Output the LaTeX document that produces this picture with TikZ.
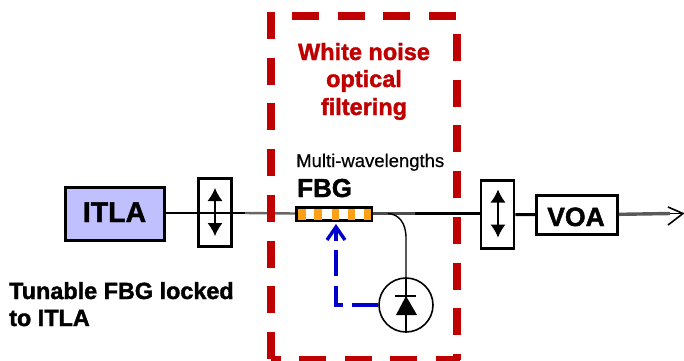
\documentclass[tikz,border=0pt]{standalone}
\usepackage{fontspec}
\setmainfont{Liberation Sans}
\newfontfamily\heavy[BoldFeatures={FakeBold=1.6}]{Liberation Sans}
\newfontfamily\semi[FakeBold=0.5]{Liberation Sans}
\usetikzlibrary{arrows.meta}
\definecolor{dashred}{RGB}{192,0,0}
\definecolor{itlafill}{RGB}{192,192,255}
\definecolor{fbgorange}{RGB}{255,160,20}
\definecolor{ctlblue}{RGB}{0,0,204}
\tikzset{
  x=1pt,y=-1pt,
  box/.style={draw=black,line width=2.8pt,inner sep=0pt,font=\heavy\bfseries\fontsize{27}{29}\selectfont},
  fibre/.style={line width=2.4pt,black},
  label/.style={inner sep=0pt,align=center},
  arrowtip/.style={-{Latex[length=13pt,width=15pt]},line width=1.2pt},
  redside/.style={dashred,line width=8pt,dash pattern=on 27pt off 18.7pt},
}
\begin{document}
\begin{tikzpicture}
\useasboundingbox (0,0) rectangle (684,360);
\clip (0,0) rectangle (684,360);
\fill[white] (0,0) rectangle (684,360);
% fibres under the enclosure
\coordinate (itlaeast) at (165,213);
\coordinate (grayleft) at (245,213);
\coordinate (grayright) at (415,213.5);
\coordinate (tap) at (388,213.5);
\coordinate (out) at (670,213.5);
\coordinate (tip) at (683,213.5);
\draw[fibre] (itlaeast) -- (232,213) -- (grayleft);
\draw[line width=2.4pt,black!60] (grayleft) -- (296,213.5);
\draw[line width=2.4pt,black!70] (372,213.5) -- (grayright);
\draw[line width=3pt,black] (grayright) -- (481,213.5);
% enclosure
\draw[redside] (271,12) -- (271,360);
\draw[redside] (292,16) -- (457,16);
\draw[redside] (457,34) -- (457,360);
\draw[redside] (299,360) -- (460,360);
\draw[dashred,line width=8pt] (271,360) -- (281,360);
% nodes
\node[box,fill=itlafill,line width=3pt,minimum width=99pt,minimum height=53pt] (itla) at (114.5,213.5) {};
\node[inner sep=0pt,font=\heavy\bfseries\fontsize{28.5}{30}\selectfont,anchor=base] (itlat) at (114.5,222) {ITLA};
\node[box,minimum width=33pt,minimum height=68pt] (isoa) at (215,212.5) {};
\node[box,minimum width=33pt,minimum height=68pt] (isob) at (497.5,214.5) {};
\node[box,minimum width=81pt,minimum height=39pt] (voa) at (577,215) {};
\node[inner sep=0pt,font=\heavy\bfseries\fontsize{26.5}{28}\selectfont,anchor=base] (voat) at (576,226) {VOA};
\node[draw=black,line width=2.6pt,fill=white,minimum width=75pt,minimum height=13.5pt,inner sep=0pt] (fbg) at (334,214) {};
\foreach \x/\w in {298/8,314/7.5,332/6.5,348/7,364/7}
  \fill[fbgorange] (\x,208.5) rectangle ++(\w,11);
\node[draw=black,line width=1.6pt,fill=white,circle,minimum size=54pt,inner sep=0pt] (pd) at (406,305) {};
% isolator arrows
\draw[arrowtip] (215,212) -- ++(0,-24);
\draw[arrowtip] (215,212) -- ++(0,24);
\draw[arrowtip] (498,213.5) -- ++(0,-24);
\draw[arrowtip] (498,213.5) -- ++(0,24);
% fibres after the isolator
\draw[fibre,line width=3pt] (isob) -- (voa);
\draw[line width=3.4pt,black!65] (voa) -- (out);
\draw[line width=1.6pt,black] (668,207) -- (tip) -- (668,225);
\draw[line width=1.2pt,black] (out) -- (tip);
% photodiode lead
\draw[line width=1.4pt] (tap) .. controls (398,214) and (406,222) .. (406,238) -- (pd.north);
\draw[line width=1.2pt] (pd.north) -- (pd.south);
\fill (406,296) -- (396,315) -- (417,315) -- cycle;
\draw[line width=2pt] (395,295.5) -- (416,295.5);
% feedback
\draw[ctlblue,line width=3.6pt,dash pattern=on 26pt off 9.5pt] (pd.west) -- (336,305) -- (336,250);
\draw[ctlblue,line width=3.4pt,-{Straight Barb[length=13pt,width=18pt,line width=3.4pt]}] (336,241) -- (336,224);
% text
\node[label,text=dashred,anchor=base,font=\heavy\bfseries\fontsize{23.5}{27.5}\selectfont] (wn1) at (364,60) {White noise};
\node[label,text=dashred,anchor=base,font=\heavy\bfseries\fontsize{23.5}{27.5}\selectfont] (wn2) at (364,87) {optical};
\node[label,text=dashred,anchor=base,font=\heavy\bfseries\fontsize{23.5}{27.5}\selectfont] (wn3) at (364,115) {filtering};
\node[label,font=\semi\fontsize{18.5}{20}\selectfont,anchor=base west] (mw) at (296,167) {Multi-wavelengths};
\node[label,font=\heavy\bfseries\fontsize{26}{28}\selectfont,anchor=base west] (fbgt) at (297,197) {FBG};
\node[label,font=\heavy\bfseries\fontsize{23.4}{25}\selectfont,anchor=base west] (tun1) at (9,299) {Tunable FBG locked};
\node[label,font=\heavy\bfseries\fontsize{23.4}{25}\selectfont,anchor=base west] (tun2) at (9,326) {to ITLA};
\end{tikzpicture}
\end{document}
